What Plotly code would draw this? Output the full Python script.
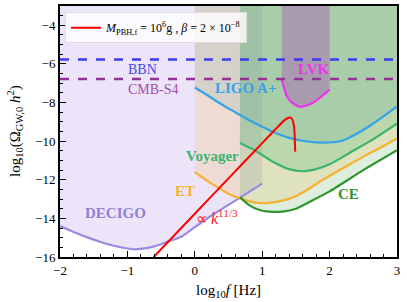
import plotly.graph_objects as go

Y_TOP = -3.0
X_RANGE = [-2, 3]
Y_RANGE = [-16, -3]

# DECIGO
decigo_x = [-2, -1.8, -1.6, -1.4, -1.2, -1.0, -0.9, -0.8, -0.6, -0.4, -0.2, 0, 0.25, 0.5, 0.75, 1.0]
decigo_y = [-14.4, -14.7, -14.97, -15.22, -15.42, -15.56, -15.6, -15.58, -15.45, -15.2, -14.95, -14.45, -13.85, -13.3, -12.75, -12.2]
# ET
et_x = [0, 0.25, 0.5, 0.7, 0.9, 1.1, 1.3, 1.5, 1.7, 1.9, 2.2, 2.5, 2.8, 3.0]
et_y = [-11.6, -12.2, -12.72, -13.0, -13.18, -13.2, -13.08, -12.85, -12.45, -12.0, -11.4, -10.8, -10.25, -9.86]
# CE
ce_x = [0.67, 0.8, 0.95, 1.1, 1.3, 1.5, 1.7, 2.0, 2.5, 3.0]
ce_y = [-12.9, -13.3, -13.55, -13.65, -13.65, -13.5, -13.15, -12.6, -11.5, -10.47]
# Voyager
voy_x = [0.67, 0.9, 1.15, 1.4, 1.6, 1.8, 2.0, 2.3, 2.6, 3.0]
voy_y = [-10.1, -10.5, -11.05, -11.45, -11.56, -11.45, -11.2, -10.6, -10.0, -9.09]
# LIGO A+
ligo_x = [0, 0.2, 0.4, 0.6, 0.8, 1.0, 1.2, 1.4, 1.6, 1.8, 2.0, 2.2, 2.4, 2.6, 2.8, 3.0]
ligo_y = [-7.22, -7.65, -8.1, -8.5, -8.9, -9.25, -9.58, -9.83, -9.98, -10.06, -10.07, -9.97, -9.62, -9.2, -8.72, -8.2]
# LVK
lvk_x = [1.29, 1.33, 1.37, 1.46, 1.56, 1.71, 1.86, 2.0]
lvk_y = [-6.81, -7.3, -7.71, -8.05, -8.22, -8.09, -7.74, -7.33]
# PBH induced GW spectrum
pbh_x = [-0.61, 0, 0.5, 1.0, 1.2, 1.32, 1.38, 1.42, 1.45, 1.47, 1.48, 1.49]
pbh_y = [-16, -13.76, -11.93, -10.1, -9.37, -8.95, -8.8, -8.78, -8.9, -9.2, -9.6, -10.55]
# horizontal bounds
bbn_y = -5.77
cmb_y = -6.78

FONT = "Liberation Serif"

fig = go.Figure()

def fill_above(xs, ys, color):
    px = list(xs) + [xs[-1], xs[0]]
    py = list(ys) + [Y_TOP, Y_TOP]
    fig.add_trace(go.Scatter(x=px, y=py, fill="toself", fillcolor=color,
                             line=dict(width=0), mode="lines", showlegend=False,
                             hoverinfo="skip"))

fill_above(decigo_x, decigo_y, "rgba(147,112,219,0.18)")
fill_above(et_x, et_y, "rgba(255,165,0,0.15)")
fill_above(ce_x, ce_y, "rgba(34,139,34,0.15)")
fill_above(voy_x, voy_y, "rgba(60,179,113,0.22)")
fill_above(ligo_x, ligo_y, "rgba(72,150,157,0.15)")
fill_above(lvk_x, lvk_y, "rgba(170,40,190,0.3)")

def line(xs, ys, color, width=2.2, dash=None):
    fig.add_trace(go.Scatter(x=xs, y=ys, mode="lines", showlegend=False,
                             line=dict(color=color, width=width, dash=dash, shape="spline", smoothing=0.6),
                             hoverinfo="skip"))

line(decigo_x, decigo_y, "#9b8be0")
line(et_x, et_y, "#f7b030")
line(ce_x, ce_y, "#2e962e")
line(voy_x, voy_y, "#3cb371")
line(ligo_x, ligo_y, "#36a2e8")
line(lvk_x, lvk_y, "#ee33ee")
line(list(X_RANGE), [bbn_y, bbn_y], "#3a3aee", width=2.6, dash="dash")
line(list(X_RANGE), [cmb_y, cmb_y], "#933393", width=2.6, dash="dash")

fig.add_trace(go.Scatter(x=pbh_x, y=pbh_y, mode="lines",
                         line=dict(color="#ff0000", width=2, shape="spline", smoothing=0.5),
                         name="<i>M</i><sub>PBH,f</sub> = 10<sup>6</sup>g , <i>β</i> = 2 × 10<sup>−8</sup>",
                         hoverinfo="skip"))

labels = [
    ("BBN", -0.78, -6.28, "#4848e8", False, 14),
    ("CMB-S4", -0.61, -7.31, "#a84ca8", False, 14),
    ("LIGO A+", 0.75, -7.27, "#36a2e8", True, 15),
    ("LVK", 1.76, -6.28, "#ee33ee", True, 15),
    ("Voyager", 0.26, -10.78, "#3cb371", True, 15),
    ("ET", -0.14, -12.59, "#f7b030", True, 15),
    ("DECIGO", -1.18, -13.73, "#9080d8", True, 15),
    ("CE", 2.28, -12.74, "#2e962e", True, 15),
    ("∝ <i>k</i><sup>11/3</sup>", 0.33, -13.93, "#ff2020", False, 16),
]
for txt, x, y, c, bold, sz in labels:
    fig.add_annotation(x=x, y=y, text=(f"<b>{txt}</b>" if bold else txt), showarrow=False,
                       font=dict(family=FONT, size=sz, color=c), xanchor="center", yanchor="middle")

# axis titles as paper annotations
fig.add_annotation(xref="paper", yref="paper", x=0.5, y=-0.09, xanchor="center", yanchor="top",
                   text="log<sub>10</sub><i>f</i> [Hz]", showarrow=False,
                   font=dict(family=FONT, size=15, color="black"))
fig.add_annotation(xref="paper", yref="paper", x=-0.135, y=0.5, xanchor="center", yanchor="middle",
                   textangle=-90, text="log<sub>10</sub>(Ω<sub>GW,0</sub> <i>h</i><sup>2</sup>)",
                   showarrow=False, font=dict(family=FONT, size=15, color="black"))

fig.update_layout(
    width=407, height=302,
    margin=dict(l=60, r=10, t=6, b=45),
    paper_bgcolor="white", plot_bgcolor="white",
    font=dict(family=FONT, size=13, color="black"),
    legend=dict(x=0.015, y=0.975, xanchor="left", yanchor="top",
                bgcolor="rgba(255,255,255,0.8)", bordercolor="#dddddd", borderwidth=1,
                font=dict(family=FONT, size=12)),
    showlegend=True,
)
fig.update_xaxes(range=X_RANGE, showgrid=False, zeroline=False, showline=True, linewidth=2,
                 linecolor="black", mirror=True, ticks="inside", ticklen=6, tickwidth=1.3,
                 tickcolor="black", dtick=1, tick0=0, automargin=False,
                 minor=dict(ticks="inside", ticklen=3, dtick=0.2, tickcolor="black", tickwidth=1),
                 tickfont=dict(size=13))
fig.update_yaxes(range=Y_RANGE, showgrid=False, zeroline=False, showline=True, linewidth=2,
                 linecolor="black", mirror=True, ticks="inside", ticklen=6, tickwidth=1.3,
                 tickcolor="black", dtick=2, tick0=-16, automargin=False,
                 minor=dict(ticks="inside", ticklen=3, dtick=0.5, tickcolor="black", tickwidth=1),
                 tickfont=dict(size=13))

fig.write_html("out.html", config={"displayModeBar": False},
               post_script="document.body.style.margin='0';document.body.style.padding='0';document.body.style.overflow='hidden';")
